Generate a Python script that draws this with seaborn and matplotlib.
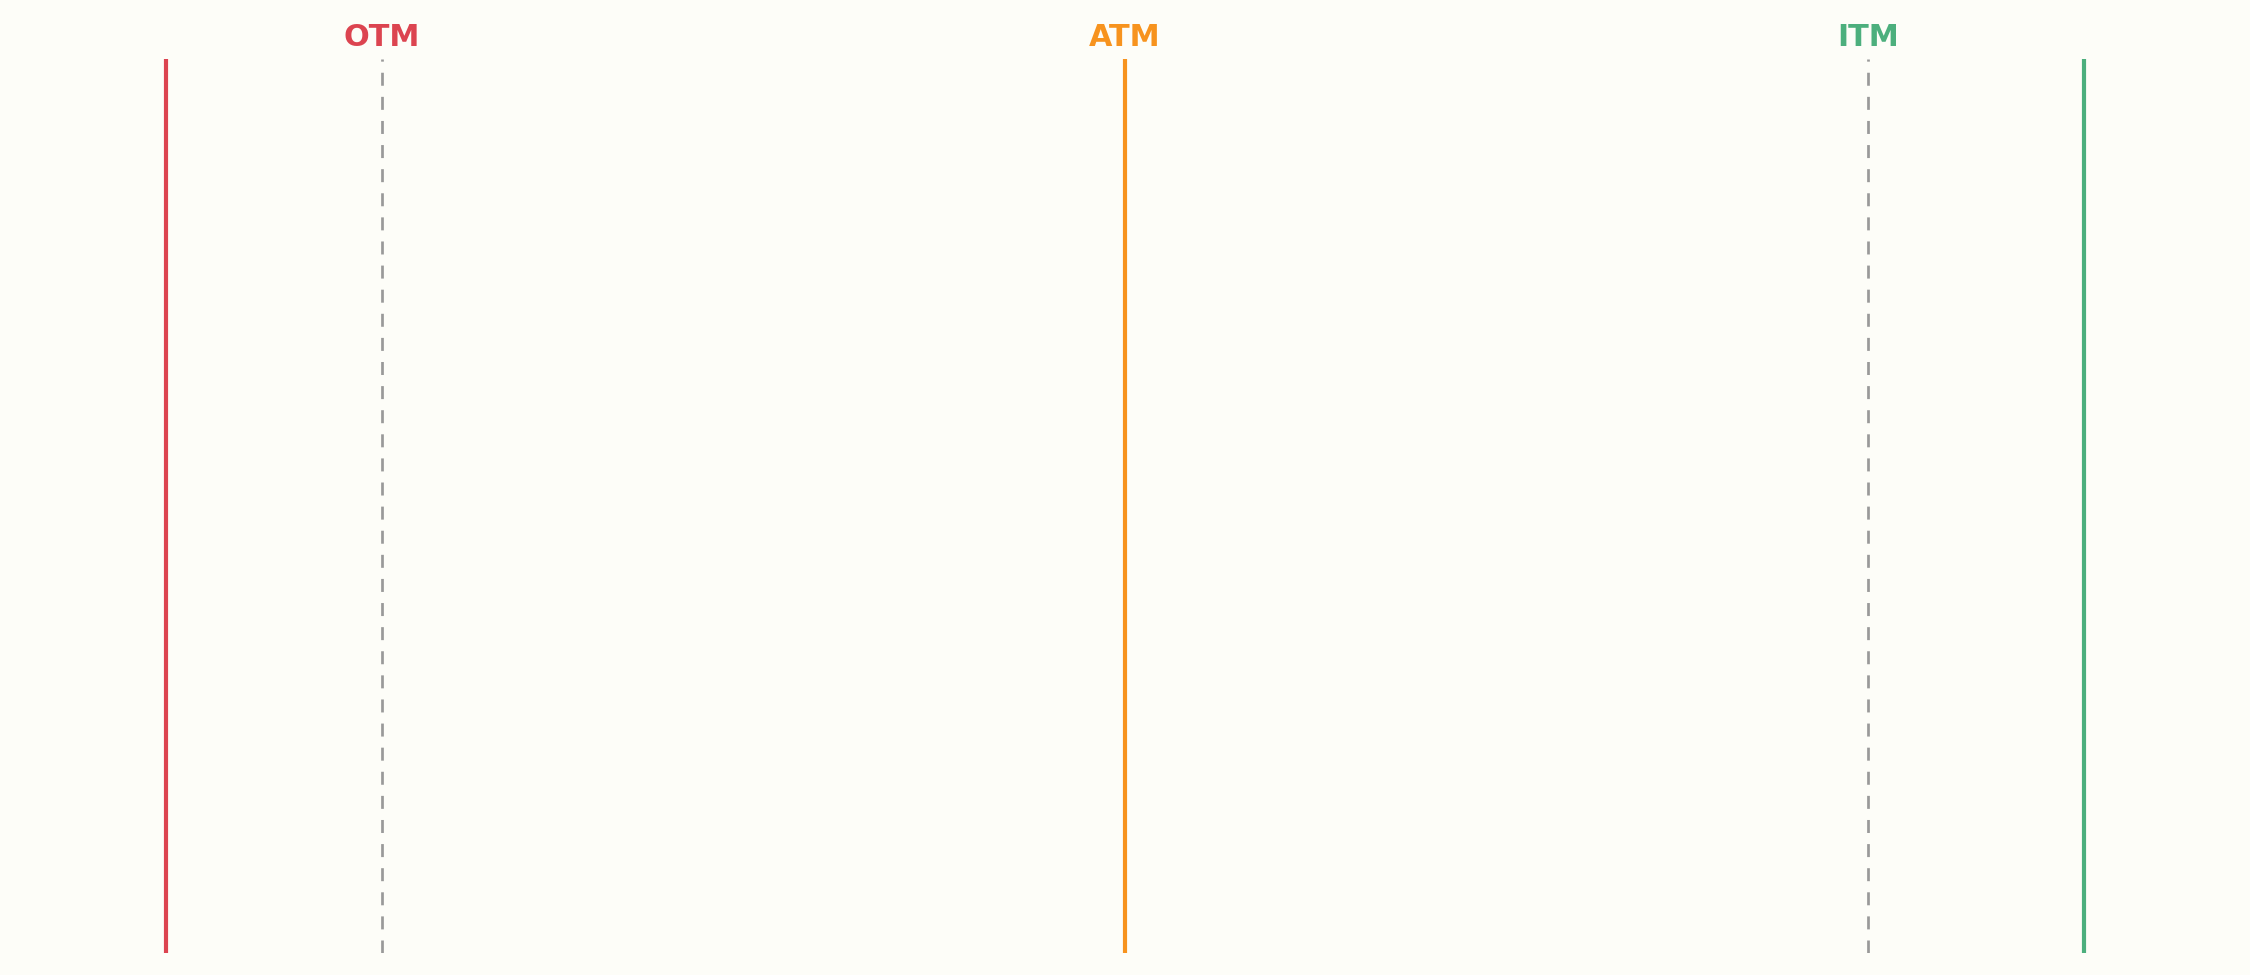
import matplotlib
matplotlib.use("Agg")
import matplotlib.pyplot as plt
import seaborn as sns
import pandas as pd

# moneyness levels (strike as % of spot)
levels = ["OTM", "ATM", "ITM"]
level_x = [90, 100, 110]
level_colors = ["#DC4450", "#F7931E", "#4CAF7D"]

# outer bounds drawn as solid lines
bound_x = [87.09, 100, 112.91]
bound_colors = ["#DC4450", "#F7931E", "#4CAF7D"]

# dashed reference strikes
ref_x = [90, 110]

BG = "#FDFDF8"

sns.set_theme(style="white")
plt.rcParams["font.family"] = ["DejaVu Sans"]

fig = plt.figure(figsize=(15, 6.5), dpi=150, facecolor=BG)
ax = fig.add_axes([0, 0.0226, 1, 0.917])
ax.set_facecolor(BG)

bounds = pd.DataFrame({"x": bound_x, "c": levels})
sns.rugplot(data=bounds, x="x", hue="c", palette=dict(zip(levels, bound_colors)),
            height=1, linewidth=2, expand_margins=False, legend=False, ax=ax)

sns.rugplot(x=ref_x, height=1, color="#999999", linewidth=1.3,
            linestyle=(0, (4.8, 4.1)), expand_margins=False, ax=ax)

for name, x, c in zip(levels, level_x, level_colors):
    ax.text(x, 1.0145, name, transform=ax.get_xaxis_transform(), ha="center",
            va="baseline", color=c, fontsize=14.5, fontweight="bold")

ax.set_xlim(84.86, 115.14)
ax.set_ylim(0, 1)
ax.set_xticks([])
ax.set_yticks([])
ax.set_xlabel("")
ax.set_ylabel("")
sns.despine(ax=ax, left=True, bottom=True)

fig.savefig("out.png", dpi=150, facecolor=BG)
